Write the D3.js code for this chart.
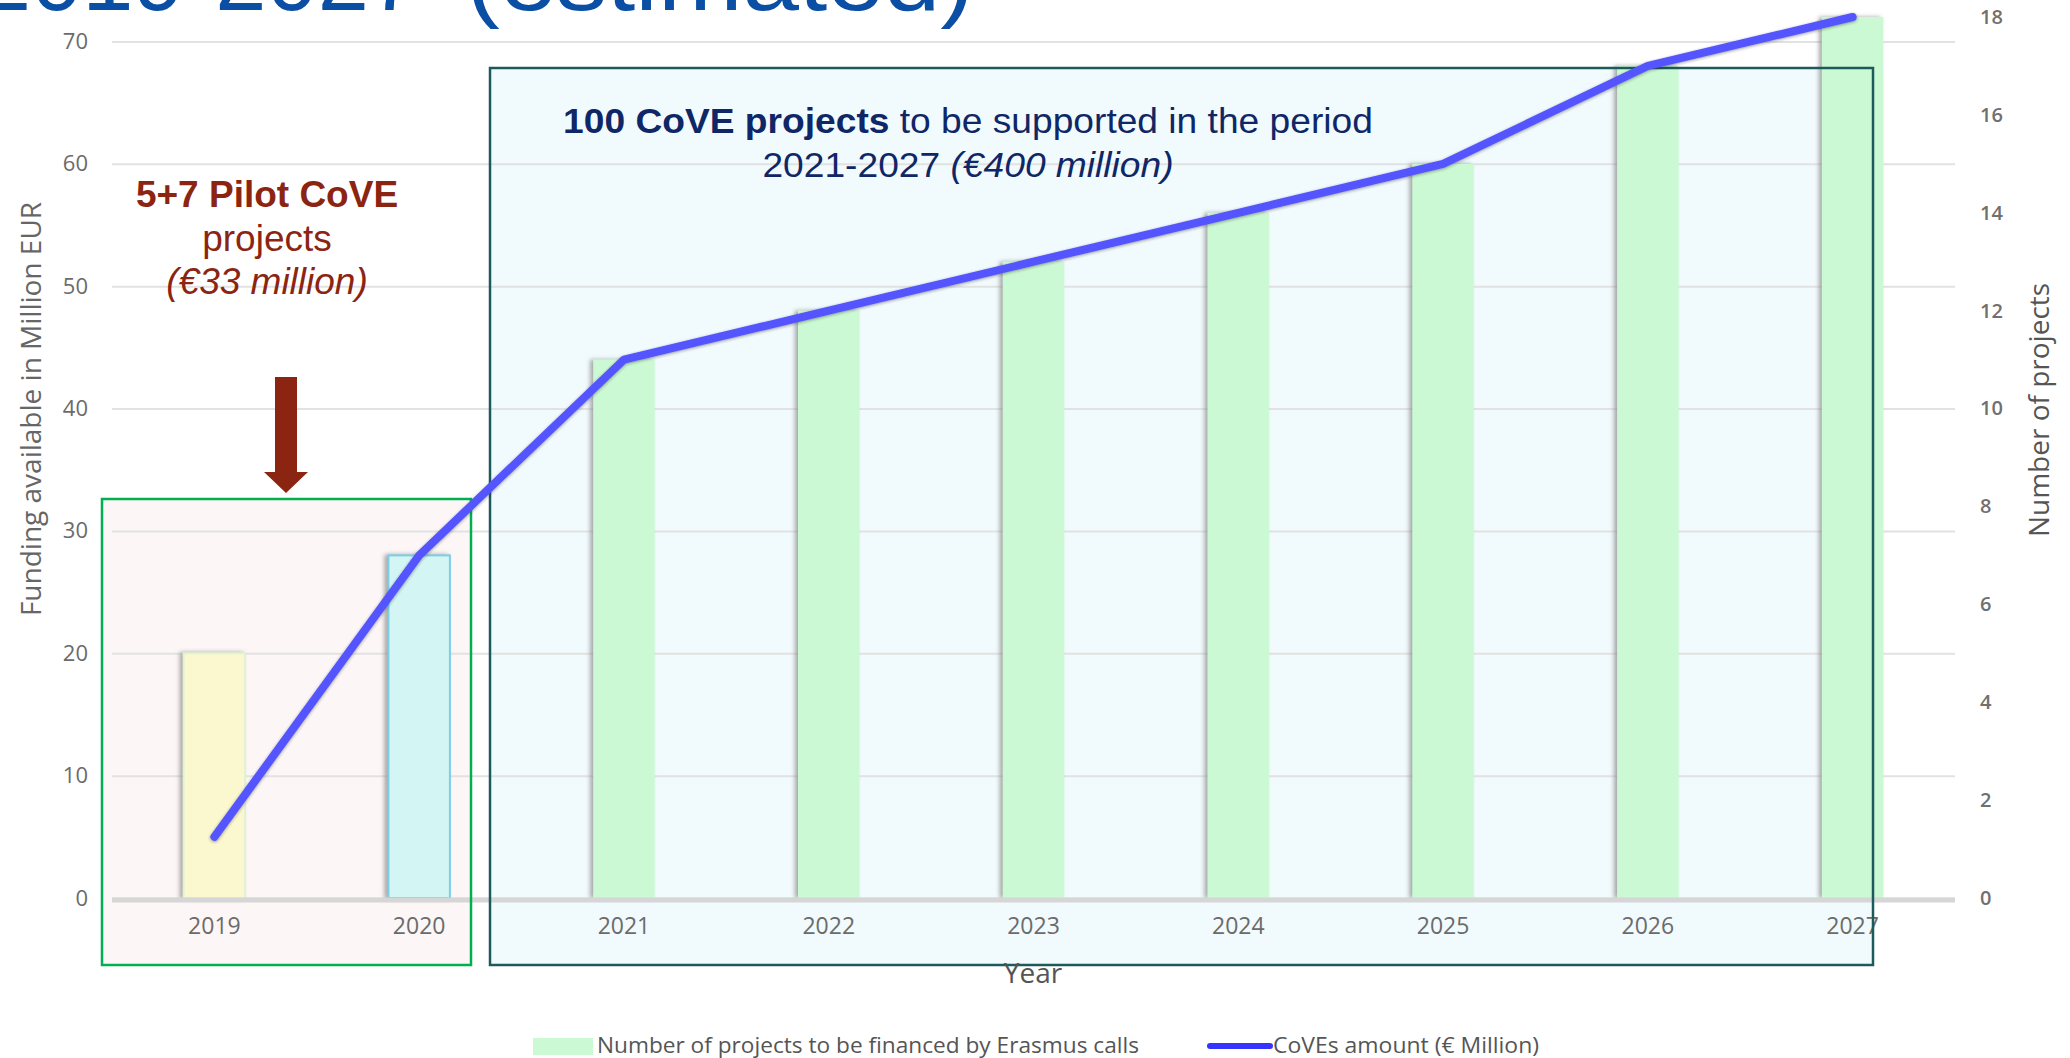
<!DOCTYPE html>
<html>
<head>
<meta charset="utf-8">
<script src="https://cdn.jsdelivr.net/npm/d3@7"></script>
<style>
  body { margin: 0; background: #fff; }
  svg { display: block; }
</style>
</head>
<body>
<div id="chart-area"></div>
<script>
// data
const years = ['2019', '2020', '2021', '2022', '2023', '2024', '2025', '2026', '2027'];
const projects = [5, 7, 11, 12, 13, 14, 15, 17, 18];          // bars, right axis
const funding = [5, 28, 44, 48, 52, 56, 60, 68, 72];          // line, left axis (€ million)
const fundingTicks = [0, 10, 20, 30, 40, 50, 60, 70];
const projectTicks = [0, 2, 4, 6, 8, 10, 12, 14, 16, 18];

const WIDTH = 2070, HEIGHT = 1058;
const PLOT = { left: 112, right: 1955, top: 17, bottom: 898 };

const barStyle = {
  '2019': { fill: '#fbf7cf', stroke: '#dff3cf' },
  '2020': { fill: '#d3f6f5', stroke: '#7ccde6' },
  other: { fill: '#cbf9d3', stroke: 'none' }
};

const svg = d3.select('#chart-area')
  .append('svg')
  .attr('width', WIDTH)
  .attr('height', HEIGHT);

const defs = svg.append('defs');
defs.append('filter').attr('id', 'barShadow')
  .attr('x', '-30%').attr('y', '-5%').attr('width', '160%').attr('height', '110%')
  .append('feDropShadow')
  .attr('dx', -3).attr('dy', 0).attr('stdDeviation', 2)
  .attr('flood-color', '#7a7a7a').attr('flood-opacity', 0.65);
defs.append('filter').attr('id', 'lineShadow')
  .attr('x', '-5%').attr('y', '-5%').attr('width', '110%').attr('height', '110%')
  .append('feDropShadow')
  .attr('dx', 0).attr('dy', 1).attr('stdDeviation', 1.5)
  .attr('flood-color', '#222').attr('flood-opacity', 0.45);

// Scales
const x = d3.scaleBand()
  .domain(years)
  .range([PLOT.left, PLOT.right])
  .paddingInner(0.7)
  .paddingOuter(0.35);
const cx = d => x(d) + x.bandwidth() / 2;

const yLeft = d3.scaleLinear().domain([0, 72]).range([PLOT.bottom, PLOT.top]);
const yRight = d3.scaleLinear().domain([0, 18]).range([PLOT.bottom, PLOT.top]);

// Title (cut off at the top of the picture, as in the slide)
svg.append('text')
  .attr('x', 420).attr('y', 10)
  .attr('text-anchor', 'end')
  .attr('font-family', 'Liberation Sans, Arial, sans-serif')
  .attr('font-size', '92px')
  .attr('fill', '#0b4fa5')
  .text('CoVE funding 2019-2027');
svg.append('text')
  .attr('x', 466).attr('y', 10)
  .attr('textLength', 508).attr('lengthAdjust', 'spacingAndGlyphs')
  .attr('font-family', 'Liberation Sans, Arial, sans-serif')
  .attr('font-size', '92px')
  .attr('fill', '#0b4fa5')
  .text('(estimated)');

// Annotation boxes (fill first, outline later)
const pilotBox = { x0: 102, x1: 471, y0: 499, y1: 965 };
const mainBox = { x0: 490, x1: 1873, y0: 68, y1: 965 };
svg.append('rect')
  .attr('x', pilotBox.x0).attr('y', pilotBox.y0)
  .attr('width', pilotBox.x1 - pilotBox.x0).attr('height', pilotBox.y1 - pilotBox.y0)
  .attr('fill', '#fdf6f6');
svg.append('rect')
  .attr('x', mainBox.x0).attr('y', mainBox.y0)
  .attr('width', mainBox.x1 - mainBox.x0).attr('height', mainBox.y1 - mainBox.y0)
  .attr('fill', '#f1fafc');

// Gridlines + left axis
const leftAxis = svg.append('g')
  .attr('transform', `translate(${PLOT.left}, 0)`)
  .call(d3.axisLeft(yLeft)
    .tickValues(fundingTicks)
    .tickSize(-(PLOT.right - PLOT.left))
    .tickPadding(24));
leftAxis.select('.domain').remove();
leftAxis.selectAll('.tick line')
  .attr('stroke', '#e2e2e2')
  .attr('stroke-width', 2);
leftAxis.selectAll('.tick text')
  .attr('font-family', 'Open Sans, sans-serif')
  .attr('font-size', '22px')
  .attr('fill', '#6b6b6b');

// Right axis
const rightAxis = svg.append('g')
  .attr('transform', `translate(${PLOT.right}, 0)`)
  .call(d3.axisRight(yRight)
    .tickValues(projectTicks)
    .tickSize(0)
    .tickPadding(25));
rightAxis.select('.domain').remove();
rightAxis.selectAll('.tick text')
  .attr('font-family', 'Open Sans, sans-serif')
  .attr('font-size', '20px')
  .attr('font-weight', 600)
  .attr('fill', '#707070');

// Bars
svg.append('g')
  .selectAll('rect')
  .data(years.map((yr, i) => ({ year: yr, value: projects[i] })))
  .enter().append('rect')
  .attr('x', d => x(d.year))
  .attr('y', d => yRight(d.value))
  .attr('width', x.bandwidth())
  .attr('height', d => yRight(0) - yRight(d.value))
  .attr('fill', d => (barStyle[d.year] || barStyle.other).fill)
  .attr('stroke', d => (barStyle[d.year] || barStyle.other).stroke)
  .attr('stroke-width', 2)
  .attr('filter', 'url(#barShadow)');

// Baseline
svg.append('line')
  .attr('x1', PLOT.left).attr('x2', PLOT.right)
  .attr('y1', yLeft(0) + 2).attr('y2', yLeft(0) + 2)
  .attr('stroke', '#d6d6d6')
  .attr('stroke-width', 5);

// X axis labels
const xAxis = svg.append('g')
  .attr('transform', `translate(0, ${PLOT.bottom})`)
  .call(d3.axisBottom(x).tickSize(0).tickPadding(20));
xAxis.select('.domain').remove();
xAxis.selectAll('.tick text')
  .attr('font-family', 'Open Sans, sans-serif')
  .attr('font-size', '23px')
  .attr('fill', '#6b6b6b');

// Box outlines
svg.append('rect')
  .attr('x', pilotBox.x0).attr('y', pilotBox.y0)
  .attr('width', pilotBox.x1 - pilotBox.x0).attr('height', pilotBox.y1 - pilotBox.y0)
  .attr('fill', 'none').attr('stroke', '#00b050').attr('stroke-width', 2.5);
svg.append('rect')
  .attr('x', mainBox.x0).attr('y', mainBox.y0)
  .attr('width', mainBox.x1 - mainBox.x0).attr('height', mainBox.y1 - mainBox.y0)
  .attr('fill', 'none').attr('stroke', '#1c5a5c').attr('stroke-width', 2.5);

// Line
const line = d3.line()
  .x((d, i) => cx(years[i]))
  .y(d => yLeft(d));
svg.append('path')
  .datum(funding)
  .attr('d', line)
  .attr('fill', 'none')
  .attr('stroke', '#5454ff')
  .attr('stroke-width', 8)
  .attr('stroke-linecap', 'round')
  .attr('stroke-linejoin', 'round')
  .attr('filter', 'url(#lineShadow)');

// Axis titles
svg.append('text')
  .attr('transform', 'translate(41, 409) rotate(-90)')
  .attr('text-anchor', 'middle')
  .attr('font-family', 'Open Sans, sans-serif')
  .attr('font-size', '28px')
  .attr('fill', '#666')
  .text('Funding available in Million EUR');
svg.append('text')
  .attr('transform', 'translate(2049, 410) rotate(-90)')
  .attr('text-anchor', 'middle')
  .attr('font-family', 'Open Sans, sans-serif')
  .attr('font-size', '28px')
  .attr('fill', '#555')
  .text('Number of projects');
svg.append('text')
  .attr('x', 1033).attr('y', 983)
  .attr('text-anchor', 'middle')
  .attr('font-family', 'Open Sans, sans-serif')
  .attr('font-size', '28px')
  .attr('fill', '#555')
  .text('Year');

// Pilot annotation
const red = '#8b2512';
const pilot = svg.append('text')
  .attr('text-anchor', 'middle')
  .attr('font-family', 'Liberation Sans, Arial, sans-serif')
  .attr('font-size', '37px')
  .attr('fill', red);
pilot.append('tspan').attr('x', 267).attr('y', 207).attr('font-weight', 'bold').text('5+7 Pilot CoVE');
pilot.append('tspan').attr('x', 267).attr('y', 251).text('projects');
pilot.append('tspan').attr('x', 267).attr('y', 294).attr('font-style', 'italic').text('(€33 million)');

// Arrow
svg.append('path')
  .attr('d', 'M275,377 L297,377 L297,472 L308,472 L286,493 L264,472 L275,472 Z')
  .attr('fill', red);

// Main annotation (slightly stretched horizontally as in the slide)
const navy = '#0f2766';
const main = svg.append('text')
  .attr('transform', 'translate(968, 0) scale(1.062, 1)')
  .attr('text-anchor', 'middle')
  .attr('font-family', 'Liberation Sans, Arial, sans-serif')
  .attr('font-size', '35px')
  .attr('fill', navy);
const l1 = main.append('tspan').attr('x', 0).attr('y', 133);
l1.append('tspan').attr('font-weight', 'bold').text('100 CoVE projects');
l1.append('tspan').text(' to be supported in the period');
main.append('tspan').attr('x', 0).attr('y', 177).text('2021-2027 ')
  .append('tspan').attr('font-style', 'italic').text('(€400 million)');

// Legend
const legend = svg.append('g');
legend.append('rect')
  .attr('x', 533).attr('y', 1038).attr('width', 60).attr('height', 17)
  .attr('fill', barStyle.other.fill);
legend.append('text')
  .attr('x', 597).attr('y', 1053)
  .attr('textLength', 542).attr('lengthAdjust', 'spacingAndGlyphs')
  .attr('font-family', 'Open Sans, sans-serif')
  .attr('font-size', '21px')
  .attr('fill', '#555')
  .text('Number of projects to be financed by Erasmus calls');
legend.append('line')
  .attr('x1', 1210).attr('x2', 1270).attr('y1', 1046).attr('y2', 1046)
  .attr('stroke', '#3535ff').attr('stroke-width', 6).attr('stroke-linecap', 'round');
legend.append('text')
  .attr('x', 1273).attr('y', 1053)
  .attr('textLength', 266).attr('lengthAdjust', 'spacingAndGlyphs')
  .attr('font-family', 'Open Sans, sans-serif')
  .attr('font-size', '21px')
  .attr('fill', '#555')
  .text('CoVEs amount (€ Million)');
</script>
</body>
</html>
